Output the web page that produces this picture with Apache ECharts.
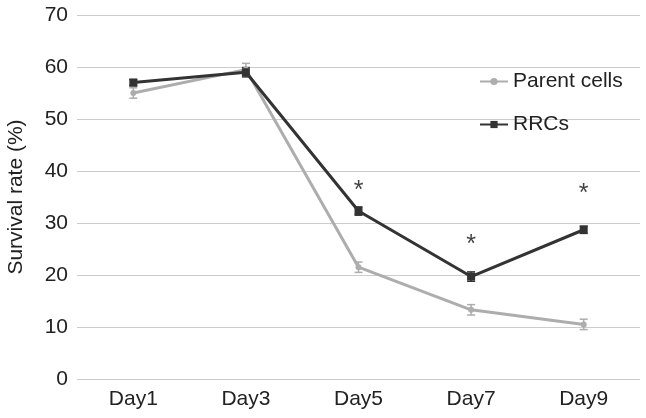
<!DOCTYPE html>
<html><head><meta charset="utf-8">
<script src="https://cdn.jsdelivr.net/npm/echarts@6/dist/echarts.min.js"></script>
<style>html,body{margin:0;padding:0;background:#fff}#c{width:646px;height:418px}</style>
</head><body><div id="c"></div>
<script>
const categories = ['Day1','Day3','Day5','Day7','Day9'];
const parentCells = [55.0, 59.5, 21.5, 13.3, 10.5];
const parentErr = [1.0, 1.2, 1.0, 1.0, 1.0];
const rrcs = [57.0, 59.0, 32.3, 19.7, 28.7];
const rrcsErr = [0.6, 0.9, 0.8, 0.9, 0.7];
const starValues = [null, null, 36.2, 25.8, 35.5];
const yTicks = [0, 10, 20, 30, 40, 50, 60, 70];

const font = 'Liberation Sans, Arial, sans-serif';
const cParent = '#adadad', cRrc = '#333333';

function errSeries(name, vals, errs, color) {
  return {
    type: 'custom', name: name + ' err', silent: true, z: 1,
    data: vals.map((v, i) => [i, v - errs[i], v + errs[i]]),
    renderItem: function (params, api) {
      const lo = api.coord([api.value(0), api.value(1)]);
      const hi = api.coord([api.value(0), api.value(2)]);
      const w = 4;
      const st = { stroke: color, lineWidth: 1.5 };
      return { type: 'group', children: [
        { type: 'line', shape: { x1: lo[0], y1: lo[1], x2: hi[0], y2: hi[1] }, style: st },
        { type: 'line', shape: { x1: lo[0]-w, y1: lo[1], x2: lo[0]+w, y2: lo[1] }, style: st },
        { type: 'line', shape: { x1: hi[0]-w, y1: hi[1], x2: hi[0]+w, y2: hi[1] }, style: st }
      ]};
    }
  };
}

const chart = echarts.init(document.getElementById('c'));
chart.setOption({
  animation: false,
  backgroundColor: '#fff',
  grid: { left: 77, right: 6, top: 15, bottom: 39, containLabel: false, outerBoundsMode: 'none' },
  legend: {
    orient: 'vertical', left: 474, top: 66, itemGap: 22, itemWidth: 28, itemHeight: 9,
    textStyle: { fontFamily: font, fontSize: 21, color: '#222' },
    data: ['Parent cells', 'RRCs']
  },
  xAxis: {
    type: 'category', data: categories, boundaryGap: true,
    axisLine: { show: false }, axisTick: { show: false },
    axisLabel: { fontFamily: font, fontSize: 21, color: '#222', margin: 10 }
  },
  yAxis: {
    type: 'value', min: yTicks[0], max: yTicks[yTicks.length-1], interval: 10,
    name: 'Survival rate (%)', nameLocation: 'middle', nameGap: 50, nameRotate: 90,
    nameTextStyle: { fontFamily: font, fontSize: 21, color: '#222' },
    axisLine: { show: false }, axisTick: { show: false },
    axisLabel: { fontFamily: font, fontSize: 21, color: '#222', margin: 9 },
    splitLine: { lineStyle: { color: '#cccccc', width: 1.2 } }
  },
  series: [
    errSeries('Parent cells', parentCells, parentErr, cParent),
    errSeries('RRCs', rrcs, rrcsErr, cRrc),
    { name: 'Parent cells', type: 'line', data: parentCells, z: 2,
      symbol: 'circle', symbolSize: 6,
      lineStyle: { color: cParent, width: 3 }, itemStyle: { color: cParent } },
    { name: 'RRCs', type: 'line', data: rrcs, z: 3,
      symbol: 'rect', symbolSize: 8,
      lineStyle: { color: cRrc, width: 3 }, itemStyle: { color: cRrc } },
    { name: 'stars', type: 'scatter', data: starValues, symbolSize: 0, silent: true,
      label: { show: true, position: 'inside', formatter: '*',
        fontFamily: font, fontSize: 25, color: '#111' } }
  ]
});
</script></body></html>
